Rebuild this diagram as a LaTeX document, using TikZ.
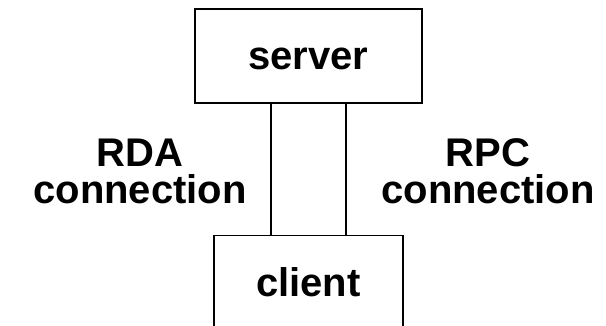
\documentclass[tikz,border=0pt]{standalone}
\usepackage{fontspec}
\setmainfont{Liberation Sans}
\begin{document}
\begin{tikzpicture}[x=1pt,y=-1pt,
  box/.style={draw,line width=1.2pt,inner sep=0pt},
  lbl/.style={font=\bfseries\fontsize{40}{37}\selectfont,align=center,inner sep=0pt},
  wire/.style={line width=1.2pt}]
\useasboundingbox (0,0) rectangle (606,326);
\clip (0,0) rectangle (606,326);
\node[box,minimum width=227pt,minimum height=94pt] (server) at (308.5,56) {};
\node[box,minimum width=189pt,minimum height=140pt,anchor=north] (client) at (308.5,235) {};
\node[lbl,anchor=base] (servertxt) at (308.5,70) {server};
\node[lbl,anchor=base] (clienttxt) at (308.5,297) {client};
\node[lbl,anchor=base] (rda) at (140,204) {RDA\\connection};
\node[lbl,anchor=base] (rpc) at (488,204) {RPC\\connection};
\draw[wire] ([xshift=-37.5pt]server.south) -- ([xshift=-37.5pt]client.north);
\draw[wire] ([xshift=37.5pt]server.south) -- ([xshift=37.5pt]client.north);
\end{tikzpicture}
\end{document}
